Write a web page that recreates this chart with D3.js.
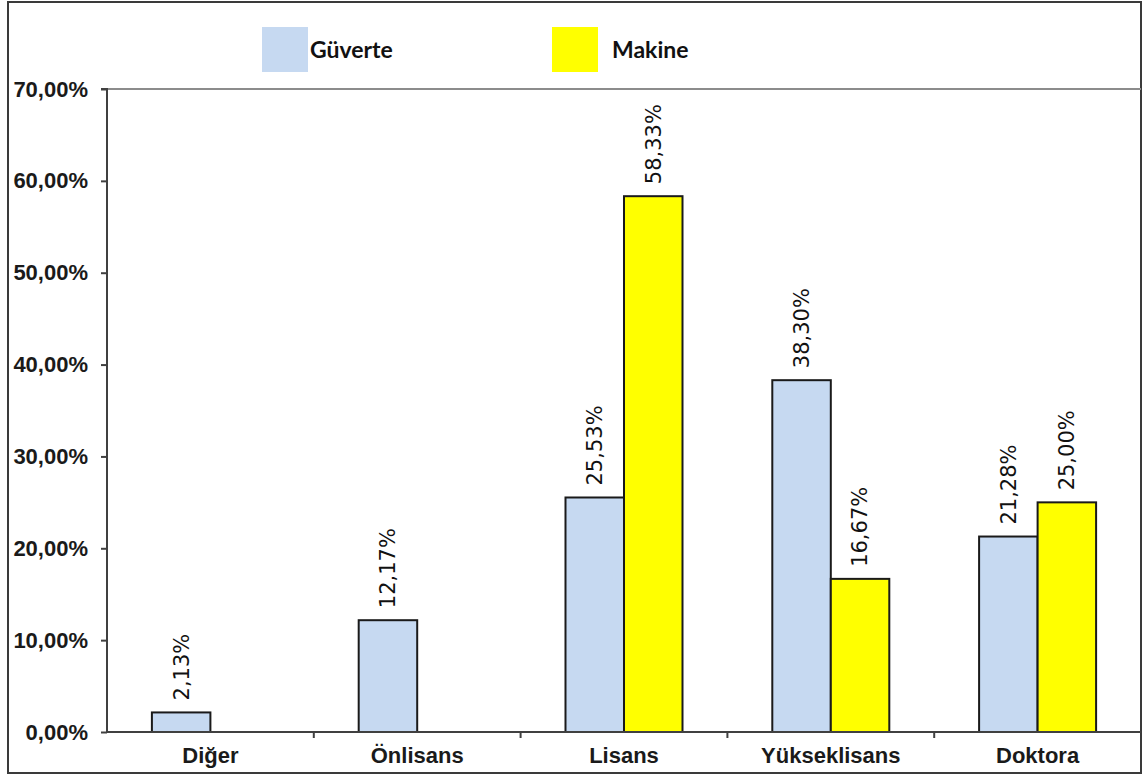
<!DOCTYPE html>
<html><head><meta charset="utf-8">
<script src="https://cdn.jsdelivr.net/npm/d3@7"></script>
<style>body{margin:0;background:#fff;}svg{display:block;}</style>
</head><body>
<svg id="chart" width="1144" height="775"></svg>
<script>
const categories = ["Diğer", "Önlisans", "Lisans", "Yükseklisans", "Doktora"];
const seriesNames = ["Güverte", "Makine"];
const guverte = [2.13, 12.17, 25.53, 38.30, 21.28];
const makine = [null, null, 58.33, 16.67, 25.00];
const yTicks = [0, 10, 20, 30, 40, 50, 60, 70];
const colors = ["#C6D9F1", "#FFFF00"];

const svg = d3.select("#chart");
const plot = {left: 107, right: 1141, top: 89, bottom: 732};

// outer frame
svg.append("rect").attr("x", 8).attr("y", 2).attr("width", 1133).attr("height", 771)
  .attr("fill", "#fff").attr("stroke", "#3a3a3a").attr("stroke-width", 2);

const x0 = d3.scaleBand().domain(categories).range([plot.left, plot.right]).paddingInner(0).paddingOuter(0);
const x1 = d3.scaleBand().domain(seriesNames).range([0, x0.bandwidth()]).paddingInner(0).paddingOuter(0.7675);
const y = d3.scaleLinear().domain([0, 70]).range([plot.bottom, plot.top]);

// plot area top line
svg.append("line").attr("x1", plot.left).attr("x2", plot.right).attr("y1", plot.top).attr("y2", plot.top)
  .attr("stroke", "#8c8c8c").attr("stroke-width", 2);

// y axis
const fmt = v => d3.format(".2f")(v).replace(".", ",") + "%";
const yAxis = d3.axisLeft(y).tickValues(yTicks).tickSize(6).tickPadding(13).tickFormat(fmt);
const gy = svg.append("g").attr("transform", `translate(${plot.left},0)`).call(yAxis);
gy.select(".domain").attr("stroke", "#404040").attr("stroke-width", 2).attr("d", `M-6,${plot.top}H0V${plot.bottom}`);
gy.selectAll(".tick line").attr("stroke", "#404040").attr("stroke-width", 2);
gy.selectAll(".tick text").attr("font-family", "Liberation Sans, Arial, sans-serif")
  .attr("font-weight", "bold").attr("font-size", 22).attr("fill", "#1a1a1a");

// x axis
const xAxis = d3.axisBottom(x0).tickSize(0).tickPadding(15);
const gx = svg.append("g").attr("transform", `translate(0,${plot.bottom})`).call(xAxis);
gx.select(".domain").attr("stroke", "#404040").attr("stroke-width", 2).attr("d", `M${plot.left},0H${plot.right}`);
gx.selectAll(".tick text").attr("font-family", "Liberation Sans, Arial, sans-serif")
  .attr("font-weight", "bold").attr("font-size", 22).attr("fill", "#1a1a1a");
// category boundary tick marks
gx.selectAll(".bound").data(categories.slice(1)).enter().append("line")
  .attr("x1", d => x0(d)).attr("x2", d => x0(d)).attr("y1", 0).attr("y2", 6)
  .attr("stroke", "#404040").attr("stroke-width", 2);

// bars
const rows = categories.map((c, i) => ({cat: c, vals: [guverte[i], makine[i]]}));
const groups = svg.append("g").selectAll("g").data(rows).enter().append("g")
  .attr("transform", d => `translate(${x0(d.cat)},0)`);
const bars = groups.selectAll("g.b").data(d => d.vals.map((v, j) => ({v, s: seriesNames[j], j})).filter(e => e.v != null))
  .enter().append("g").attr("class", "b");
bars.append("rect")
  .attr("x", d => x1(d.s)).attr("width", x1.bandwidth())
  .attr("y", d => y(d.v)).attr("height", d => y(0) - y(d.v))
  .attr("fill", d => colors[d.j]).attr("stroke", "#1a1a1a").attr("stroke-width", 2);
bars.append("text")
  .attr("transform", d => `translate(${x1(d.s) + x1.bandwidth() / 2},${y(d.v) - 12}) rotate(-90)`)
  .attr("dy", "0.35em").attr("text-anchor", "start")
  .attr("font-family", "DejaVu Sans, Verdana, sans-serif").attr("font-size", 21).attr("fill", "#111")
  .text(d => fmt(d.v));

// redraw x axis line on top of bars
svg.append("line").attr("x1", plot.left).attr("x2", plot.right).attr("y1", plot.bottom).attr("y2", plot.bottom)
  .attr("stroke", "#404040").attr("stroke-width", 2);

// legend
const legendX = [262, 552];
const lg = svg.append("g").selectAll("g").data(seriesNames).enter().append("g")
  .attr("transform", (d, i) => `translate(${legendX[i]},27)`);
lg.append("rect").attr("width", 46).attr("height", 45).attr("fill", (d, i) => colors[i]);
lg.append("text").attr("x", (d, i) => i === 0 ? 48 : 60).attr("y", 23).attr("dy", "0.35em")
  .attr("font-family", "Lato, Carlito, Calibri, sans-serif").attr("font-weight", "bold").attr("font-size", 23)
  .attr("fill", "#111").text(d => d);
</script>
</body></html>
